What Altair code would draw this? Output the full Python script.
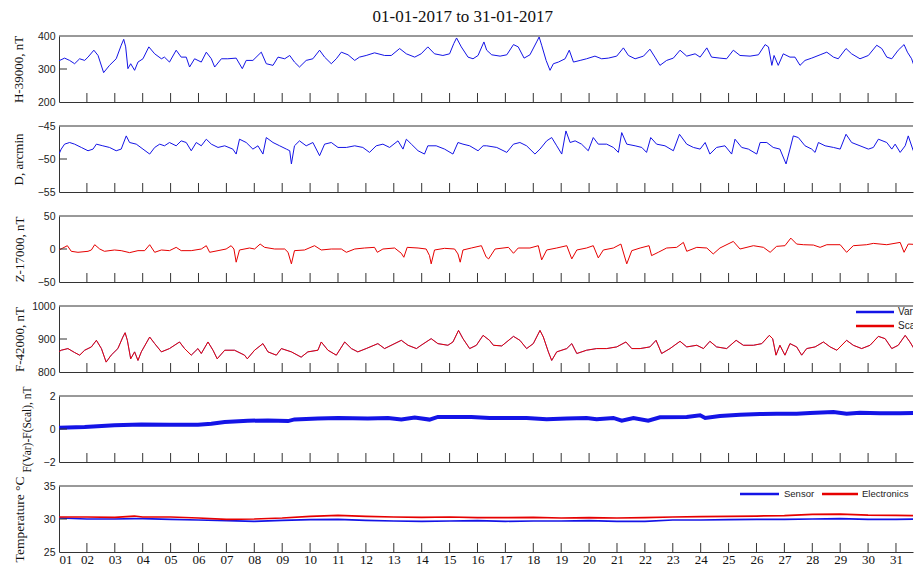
import altair as alt
import pandas as pd

TITLE = "01-01-2017 to 31-01-2017"
DAY_TICKS = list(range(1, 32))
X_MAX = 31.61

# ---- H-39000, nT ----
h_day = [1.0, 1.2, 1.38, 1.56, 1.74, 1.92, 2.04, 2.25, 2.4, 2.6, 2.81, 3.05, 3.23, 3.32, 3.39, 3.47, 3.57, 3.71, 3.83,
         4.01, 4.22, 4.43, 4.67, 4.78, 4.96, 5.2, 5.38, 5.56, 5.68, 5.86, 6.1, 6.28, 6.46, 6.58, 6.82, 7.05, 7.35, 7.57,
         7.71, 7.95, 8.25, 8.43, 8.67, 8.85, 9.09, 9.27, 9.44, 9.62, 9.86, 10.1, 10.34, 10.52, 10.76, 10.94, 11.12,
         11.36, 11.6, 11.77, 12.01, 12.31, 12.67, 12.91, 13.21, 13.45, 13.75, 13.98, 14.22, 14.46, 14.76, 15.0, 15.15,
         15.25, 15.42, 15.66, 15.84, 16.02, 16.23, 16.33, 16.51, 16.81, 17.05, 17.29, 17.46, 17.67, 17.88, 18.12,
         18.21, 18.3, 18.46, 18.6, 18.72, 18.9, 19.14, 19.29, 19.44, 19.68, 19.91, 20.21, 20.45, 20.69, 20.99, 21.23,
         21.41, 21.65, 21.95, 22.18, 22.36, 22.54, 22.78, 23.02, 23.26, 23.5, 23.8, 23.98, 24.22, 24.39, 24.69, 24.93,
         25.17, 25.41, 25.77, 26.07, 26.31, 26.43, 26.55, 26.63, 26.78, 26.96, 27.2, 27.38, 27.56, 27.74, 27.98,
         28.28, 28.52, 28.76, 28.93, 29.21, 29.41, 29.71, 30.01, 30.31, 30.49, 30.67, 30.85, 31.08, 31.29, 31.41,
         31.56, 31.74, 31.86, 32.0]
h_val = [325, 333, 326, 316, 331, 326, 336, 357, 341, 289, 311, 331, 372, 390, 367, 301, 316, 296, 321,
         331, 367, 346, 331, 336, 321, 357, 336, 336, 306, 331, 321, 351, 331, 306, 331, 331, 333, 301,
         326, 326, 351, 316, 311, 336, 331, 341, 321, 306, 326, 331, 357, 336, 316, 331, 351,
         343, 326, 336, 341, 349, 341, 341, 362, 346, 336, 346, 367, 346, 341, 346, 377,
         394, 367, 336, 331, 341, 382, 357, 343, 339, 343, 374, 367, 333, 343, 382,
         397, 372, 326, 296, 316, 321, 331, 357, 321, 326, 331, 339, 331, 333, 339, 364,
         341, 331, 339, 360, 336, 311, 326, 333, 357, 339, 346, 336, 364, 336, 333, 331,
         357, 341, 339, 343, 374, 367, 311, 341, 311, 346, 336, 336, 311, 326, 333,
         343, 351, 336, 331, 362, 346, 331, 341, 372, 362, 336, 331, 357, 374, 351,
         331, 286, 311, 316]

# ---- D, arcmin ----
d_day = [1.0, 1.08, 1.2, 1.38, 1.56, 1.8, 2.04, 2.22, 2.34, 2.57, 2.81, 3.05, 3.23, 3.41, 3.53, 3.77, 4.01, 4.25,
         4.43, 4.61, 4.78, 4.96, 5.2, 5.38, 5.56, 5.74, 5.92, 6.1, 6.28, 6.46, 6.7, 6.94, 7.23, 7.35, 7.47, 7.71,
         7.95, 8.13, 8.31, 8.43, 8.67, 8.91, 9.15, 9.27, 9.33, 9.44, 9.62, 9.86, 10.1, 10.34, 10.52, 10.76, 11.0,
         11.3, 11.6, 11.89, 12.13, 12.37, 12.61, 12.85, 13.15, 13.33, 13.45, 13.63, 13.87, 14.1, 14.22, 14.52,
         14.82, 15.12, 15.3, 15.48, 15.72, 16.02, 16.2, 16.33, 16.69, 17.05, 17.29, 17.52, 17.76, 18.06, 18.24,
         18.48, 18.66, 18.84, 19.02, 19.17, 19.32, 19.5, 19.73, 19.97, 20.15, 20.33, 20.63, 20.87, 21.05, 21.17,
         21.35, 21.65, 21.89, 22.06, 22.21, 22.42, 22.72, 23.02, 23.24, 23.5, 23.74, 23.98, 24.16, 24.33, 24.57,
         24.87, 25.11, 25.23, 25.47, 25.71, 26.01, 26.13, 26.37, 26.6, 26.84, 27.06, 27.2, 27.32, 27.5, 27.74,
         27.98, 28.1, 28.22, 28.46, 28.76, 29.0, 29.21, 29.41, 29.71, 30.01, 30.19, 30.37, 30.67, 30.85, 30.97,
         31.15, 31.33, 31.44, 31.62, 31.8, 31.92]
d_val = [-49.25, -48.5, -47.75, -47.5, -47.75, -48.25, -48.75, -48.5, -47.75, -48.0, -48.25, -48.75, -48.5, -46.5,
         -47.5, -47.75, -48.5, -49.25, -48.25, -47.75, -48.0, -47.5, -48.0, -47.25, -47.5, -48.75, -47.5, -48.0,
         -47.0, -47.75, -48.25, -48.0, -48.5, -49.25, -47.0, -47.5, -48.5, -48.0, -49.25, -46.75, -47.5, -48.0,
         -48.5, -48.75, -50.75, -48.0, -47.25, -48.0, -47.5, -49.5, -47.75, -47.5, -48.25, -48.25, -48.0, -48.25,
         -49.0, -48.0, -47.75, -48.25, -47.25, -48.5, -47.0, -47.75, -48.75, -49.25, -48.0, -48.0, -48.5, -49.25,
         -47.5, -47.75, -48.0, -48.75, -48.0, -48.0, -48.25, -49.0, -47.75, -47.5, -48.0, -49.25, -48.5, -47.25,
         -46.75, -48.0, -49.25, -45.75, -47.5, -47.25, -47.75, -48.75, -46.75, -47.75, -47.75, -48.25, -49.0,
         -46.0, -47.75, -48.0, -48.25, -49.0, -46.75, -47.75, -48.0, -48.75, -46.25, -47.75, -48.25, -48.5,
         -47.5, -49.25, -48.25, -48.0, -49.25, -47.0, -48.25, -48.5, -49.25, -47.5, -47.5, -48.25, -48.5,
         -50.75, -48.5, -46.5, -46.75, -48.0, -48.5, -49.0, -47.5, -48.0, -48.25, -48.5, -46.25, -47.5, -48.0,
         -48.5, -48.25, -47.0, -47.5, -48.5, -47.75, -49.0, -48.0, -46.5, -48.75, -48.0, -47.5]

# ---- Z-17000, nT ----
z_day = [1.0, 1.14, 1.3, 1.44, 1.68, 2.04, 2.16, 2.28, 2.46, 2.63, 2.99, 3.23, 3.53, 3.83, 4.07, 4.25, 4.43, 4.67,
         4.96, 5.2, 5.38, 5.74, 6.1, 6.28, 6.4, 6.7, 6.99, 7.17, 7.27, 7.35, 7.47, 7.83, 8.01, 8.21, 8.37, 8.73,
         9.09, 9.21, 9.33, 9.44, 9.8, 10.16, 10.4, 10.76, 11.12, 11.3, 11.6, 11.95, 12.31, 12.41, 12.61, 13.03,
         13.27, 13.36, 13.48, 13.87, 14.16, 14.28, 14.34, 14.46, 14.82, 15.18, 15.3, 15.38, 15.48, 15.78, 16.14,
         16.31, 16.4, 16.63, 17.11, 17.29, 17.46, 17.88, 18.18, 18.3, 18.48, 18.84, 19.2, 19.38, 19.56, 19.91,
         20.15, 20.33, 20.51, 20.87, 21.14, 21.35, 21.53, 21.83, 22.15, 22.24, 22.48, 22.78, 23.14, 23.38, 23.5,
         23.86, 24.22, 24.45, 24.69, 25.17, 25.41, 25.89, 26.25, 26.49, 26.72, 27.02, 27.23, 27.44, 27.68, 28.04,
         28.28, 28.52, 29.0, 29.23, 29.47, 29.95, 30.19, 30.67, 31.15, 31.29, 31.44, 31.86, 32.0]
z_val = [-1.5, 1.5, 5, -3.5, -5, -3.5, -1.5, 6.5, 0, -3.5, -1.5, -2.5, -5.5, -2.5, -2.5, 6.5, -5, -1.5,
         -2.5, 2.5, -2.5, -2.5, 0, 5, -5, -2.5, 0, 5, 0, -20, -1.5, 1.5, 0, 7.5, 2.5, 0,
         0, -5, -22.5, -2.5, -1.5, 5, -1.5, 0, 0, -5, 0, 1.5, 2.5, -5, 0, 1.5,
         -6.5, -12.5, 2.5, 1.5, 0, -10, -22.5, -1.5, 1, 0, -7.5, -20, -1.5, 1.5, 5,
         -12, -15, 0, 2.5, -6.5, 1.5, 1.5, 5, -16.5, -1.5, 1.5, 5, -15, -1.5, 1.5,
         5, -13.5, -1.5, 1.5, 7.5, -22.5, -2.5, 1.5, 5, -10, -5, 1.5, 2.5, 10, -3.5,
         2.5, 1.5, -7.5, 1.5, 11.5, 0, 5, 2.5, -5, 4, 5, 16.5, 7.5, 6.5, 6,
         2.5, 6.5, 6.5, -5, 5, 6.5, 8.5, 6.5, 10, -5, 7.5, 6.5, 6.5]

# ---- F-42000, nT (Var and Scal coincide at this scale) ----
f_day = [1.0, 1.08, 1.32, 1.56, 1.74, 1.92, 2.16, 2.34, 2.52, 2.69, 2.87, 3.11, 3.29, 3.37, 3.45, 3.57, 3.71, 3.83,
         3.95, 4.25, 4.43, 4.67, 4.96, 5.32, 5.5, 5.74, 5.98, 6.1, 6.34, 6.52, 6.67, 6.94, 7.29, 7.65, 7.75, 8.01,
         8.31, 8.49, 8.79, 8.97, 9.33, 9.68, 9.92, 10.28, 10.4, 10.64, 10.94, 11.24, 11.48, 11.71, 12.01, 12.43,
         12.67, 13.27, 13.51, 13.81, 13.98, 14.34, 14.58, 14.94, 15.12, 15.32, 15.48, 15.72, 15.96, 16.2, 16.43,
         16.57, 16.87, 17.29, 17.52, 17.76, 18.0, 18.24, 18.36, 18.54, 18.66, 18.84, 19.2, 19.38, 19.56, 19.91,
         20.27, 20.63, 20.99, 21.32, 21.53, 21.83, 22.18, 22.4, 22.6, 22.9, 23.26, 23.5, 23.86, 24.1, 24.33, 24.57,
         24.93, 25.27, 25.53, 25.89, 26.19, 26.46, 26.58, 26.7, 26.84, 27.02, 27.2, 27.44, 27.62, 27.8, 28.1,
         28.4, 28.64, 28.88, 29.23, 29.47, 29.77, 30.07, 30.37, 30.61, 30.85, 31.08, 31.33, 31.5, 31.68, 31.8,
         31.92]
f_val = [862, 866, 871, 859, 851, 866, 876, 896, 871, 830, 851, 871, 906, 919, 896, 840, 861, 835,
         861, 906, 886, 861, 871, 891, 871, 851, 871, 856, 891, 866, 840, 866, 866, 851, 840, 866,
         886, 861, 851, 871, 861, 845, 861, 866, 891, 866, 851, 891, 871, 861, 871, 886,
         871, 896, 881, 871, 881, 901, 886, 881, 891, 926, 901, 871, 881, 911, 896,
         881, 879, 908, 896, 871, 886, 926, 906, 861, 835, 861, 871, 886, 856, 866,
         871, 871, 876, 891, 871, 871, 876, 896, 856, 871, 893, 876, 881, 871, 893, 876,
         871, 896, 881, 881, 886, 911, 901, 851, 881, 851, 886, 876, 851, 871, 876,
         891, 876, 866, 896, 881, 871, 881, 908, 901, 871, 881, 911, 891, 866, 830,
         851]

# ---- F(Var)-F(Scal), nT ----
fd_day = [1.0, 1.92, 2.99, 3.95, 4.96, 5.98, 6.46, 6.94, 7.77, 8.49, 9.21, 9.44, 10.28, 11.0, 12.07, 12.79, 13.27,
          13.75, 14.28, 14.58, 15.78, 16.43, 17.05, 17.76, 18.48, 19.2, 19.91, 20.27, 20.87, 21.17, 21.59, 22.12,
          22.54, 23.5, 23.98, 24.16, 24.69, 25.41, 26.13, 26.72, 27.44, 27.92, 28.76, 29.23, 29.71, 30.43, 31.15,
          32.0]
fd_val = [0.08, 0.12, 0.22, 0.28, 0.26, 0.26, 0.32, 0.42, 0.5, 0.52, 0.48, 0.58, 0.63, 0.67, 0.63, 0.67, 0.57,
          0.69, 0.57, 0.73, 0.73, 0.67, 0.67, 0.67, 0.59, 0.63, 0.67, 0.59, 0.67, 0.5, 0.67, 0.5,
          0.71, 0.73, 0.83, 0.67, 0.79, 0.87, 0.91, 0.93, 0.93, 0.97, 1.03, 0.93, 0.99, 0.95, 0.95,
          0.99]

# ---- Temperature ----
t_day = [1.0, 2.0, 3.0, 3.7, 4.0, 5.0, 6.0, 7.0, 8.0, 9.0, 10.0, 11.0, 12.0, 13.0, 14.0, 15.0, 16.0, 17.0, 18.0,
         19.0, 20.0, 21.0, 22.0, 23.0, 24.0, 25.0, 26.0, 27.0, 28.0, 29.0, 30.0, 31.0, 32.0]
sensor_val = [30.15, 30.0, 30.0, 30.05, 30.05, 29.95, 29.85, 29.75, 29.65, 29.8, 29.9, 29.95, 29.8, 29.7, 29.65,
              29.7, 29.75, 29.65, 29.7, 29.7, 29.75, 29.65, 29.65, 29.85, 29.85, 29.9, 29.95, 29.95, 30.0, 30.05,
              29.95, 29.95, 30.0]
electronics_val = [30.3, 30.3, 30.25, 30.45, 30.3, 30.3, 30.15, 29.95, 30.0, 30.15, 30.4, 30.55, 30.4, 30.3,
                   30.25, 30.3, 30.2, 30.2, 30.25, 30.15, 30.2, 30.15, 30.2, 30.3, 30.35, 30.4, 30.45, 30.5,
                   30.7, 30.75, 30.6, 30.55, 30.5]

F_LEGEND = ["Var", "Scal"]
T_LEGEND = ["Sensor", "Electronics"]

BLUE = "#1414e6"
RED = "#e60000"
FRAME = "#333333"
W = 854
H = 66
SERIF = "Liberation Serif"
SANS = "Liberation Sans"

x_scale = alt.Scale(domain=[1, X_MAX], nice=False, zero=False)


def panel(series, y_title, y_dom, title_x, title_size=13, show_labels=False, legend=None, legend_size=10):
    y_scale = alt.Scale(domain=y_dom, nice=False, zero=False)
    mid = (y_dom[0] + y_dom[1]) / 2
    x_axis = alt.Axis(
        values=DAY_TICKS, ticks=False, labels=show_labels, format="02d", title=None,
        domain=True, domainColor=FRAME, domainWidth=1, grid=False,
        labelFont=SERIF, labelFontSize=13, labelColor="#111", labelPadding=1,
        labelFlush=True, labelBaseline="top",
    )
    y_axis = alt.Axis(
        values=[y_dom[0], mid, y_dom[1]], ticks=False, grid=False, domain=True, format="d",
        domainColor=FRAME, domainWidth=1, labelFont=SANS, labelFontSize=10.5,
        labelColor="#222", labelPadding=4, title=y_title, titleFont=SERIF,
        titleFontSize=title_size, titleFontWeight="normal", titleColor="#111",
        titleX=title_x, titleY=H / 2, titleAngle=270, titleAlign="center",
        titleBaseline="middle",
    )
    layers = []
    for days, vals, color, sw in series:
        df = pd.DataFrame({"day": days, "value": vals})
        layers.append(
            alt.Chart(df).mark_line(color=color, strokeWidth=sw, clip=True).encode(
                x=alt.X("day:Q", scale=x_scale, axis=x_axis),
                y=alt.Y("value:Q", scale=y_scale, axis=y_axis),
            )
        )
    # inward day ticks on the bottom edge
    tick_df = pd.DataFrame({"day": DAY_TICKS[1:]})
    layers.append(
        alt.Chart(tick_df).mark_rule(color=FRAME, strokeWidth=1).encode(
            x=alt.X("day:Q", scale=x_scale, axis=x_axis),
            y=alt.value(H), y2=alt.value(H - 9),
        )
    )
    # inward tick at the middle y value
    mid_df = pd.DataFrame({"value": [mid]})
    layers.append(
        alt.Chart(mid_df).mark_rule(color=FRAME, strokeWidth=1).encode(
            y=alt.Y("value:Q", scale=y_scale, axis=y_axis),
            x=alt.value(0), x2=alt.value(8),
        )
    )
    # top frame line
    layers.append(
        alt.Chart(pd.DataFrame({"a": [0]})).mark_rule(color=FRAME, strokeWidth=1).encode(
            x=alt.value(0), x2=alt.value(W), y=alt.value(0)
        )
    )
    if legend:
        for lab, color, x0, x1, ly, tx in legend:
            ldf = pd.DataFrame({"label": [lab]})
            layers.append(
                alt.Chart(ldf).mark_rule(color=color, strokeWidth=2.5, clip=True).encode(
                    x=alt.value(x0), x2=alt.value(x1), y=alt.value(ly)
                )
            )
            layers.append(
                alt.Chart(ldf).mark_text(align="left", baseline="middle", font=SANS, fontSize=legend_size,
                                         color="#222", clip=True).encode(
                    x=alt.value(tx), y=alt.value(ly), text="label:N"
                )
            )
    return alt.layer(*layers).properties(width=W, height=H)


p1 = panel([(h_day, h_val, BLUE, 1.0)], "H-39000, nT", [200, 400], -41)
p2 = panel([(d_day, d_val, BLUE, 1.0)], "D, arcmin", [-55, -45], -41)
p3 = panel([(z_day, z_val, RED, 1.0)], "Z-17000, nT", [-50, 50], -39.5)
p4 = panel([(f_day, f_val, BLUE, 0.6), (f_day, f_val, RED, 1.0)], "F-42000, nT", [800, 1000], -39.5,
           legend=[(F_LEGEND[0], BLUE, 797, 835, 6, 839), (F_LEGEND[1], RED, 797, 835, 20, 839)])
p5 = panel([(fd_day, fd_val, BLUE, 4.0)], "F(Var)-F(Scal), nT", [-2, 2], -32, title_size=11.5)
p6 = panel([(t_day, sensor_val, BLUE, 1.7), (t_day, electronics_val, RED, 1.7)], "Temperature °C", [25, 35],
           -40, title_size=13.5, show_labels=True, legend_size=9.5,
           legend=[(T_LEGEND[0], BLUE, 681, 720, 8, 725), (T_LEGEND[1], RED, 763, 799, 8, 803)])

chart = alt.vconcat(p1, p2, p3, p4, p5, p6, spacing=24, bounds="flush").properties(
    title=alt.TitleParams(TITLE, font=SERIF, fontSize=17, fontWeight="normal", color="#111",
                          anchor="middle", offset=5),
    padding={"left": 4, "right": 0, "top": 0, "bottom": 0},
).configure_view(stroke=None).configure_axis(grid=False)

chart.save("out.html", embed_options={"renderer": "svg", "actions": False})
